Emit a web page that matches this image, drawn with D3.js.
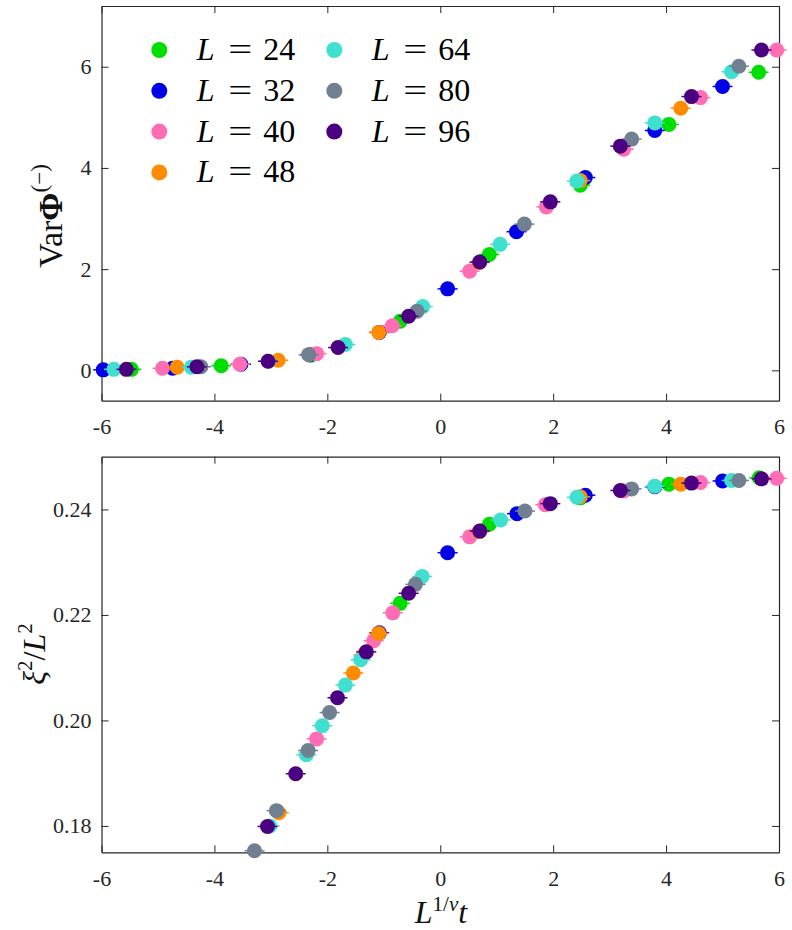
<!DOCTYPE html>
<html lang="en">
<head>
<meta charset="UTF-8">
<title>collapse</title>
<style>
  body { margin: 0; background: #fff; }
  text { font-family: "Liberation Serif", "Times New Roman", serif; }
</style>
</head>
<body>
<script src="https://d3js.org/d3.v7.min.js"></script>
<script>
// system sizes + colours (legend order)
const sizes = [24, 32, 40, 48, 64, 80, 96];
const colors = ['#00dd00', '#0000e6', '#ff6eb4', '#ff8c00', '#40e0d0', '#708090', '#4b0082'];

// top panel: [L^{1/nu} t, Var Phi^(-)]
const var24 = [[-5.47, 0.02], [-3.88, 0.09], [-2.29, 0.30], [-0.71, 0.97], [0.87, 2.29], [2.48, 3.66], [4.05, 4.86], [5.64, 5.89]];
const var32 = [[-5.97, 0.01], [-4.74, 0.04], [-3.53, 0.12], [-2.31, 0.31], [-1.08, 0.75], [0.13, 1.61], [1.35, 2.74], [2.57, 3.81], [3.80, 4.74], [5.00, 5.61]];
const var40 = [[-4.92, 0.04], [-3.55, 0.12], [-2.19, 0.33], [-0.85, 0.88], [0.52, 1.96], [1.88, 3.23], [3.25, 4.37], [4.61, 5.39], [5.96, 6.33]];
const var48 = [[-4.66, 0.06], [-2.87, 0.20], [-1.09, 0.75], [0.69, 2.13], [2.48, 3.75], [4.26, 5.18]];
const var64 = [[-5.78, 0.02], [-4.41, 0.06], [-3.04, 0.18], [-1.68, 0.51], [-0.31, 1.26], [1.06, 2.49], [2.42, 3.74], [3.80, 4.89], [5.16, 5.90]];
const var80 = [[-4.24, 0.07], [-2.33, 0.31], [-0.41, 1.17], [1.49, 2.89], [3.39, 4.57], [5.29, 6.01]];
const var96 = [[-5.56, 0.02], [-4.31, 0.07], [-3.05, 0.18], [-1.81, 0.45], [-0.56, 1.07], [0.70, 2.14], [1.95, 3.33], [3.19, 4.43], [4.45, 5.41], [5.69, 6.33]];

// bottom panel: [L^{1/nu} t, xi^2/L^2]
const xi24 = [[-0.71, 0.2222], [0.87, 0.2372], [2.48, 0.2422], [4.05, 0.2448], [5.65, 0.2460]];
const xi32 = [[-1.08, 0.2166], [0.13, 0.2318], [1.36, 0.2392], [2.57, 0.2427], [3.80, 0.2443], [5.00, 0.2454]];
const xi40 = [[-2.19, 0.1965], [-1.18, 0.2151], [-0.84, 0.2204], [0.52, 0.2348], [1.86, 0.2409], [3.25, 0.2435], [4.61, 0.2451], [5.96, 0.2459]];
const xi48 = [[-2.86, 0.1825], [-1.54, 0.2090], [-1.36, 0.2124], [-1.09, 0.2165], [0.69, 0.2358], [2.48, 0.2424], [4.26, 0.2448]];
const xi64 = [[-3.02, 0.1800], [-2.37, 0.1935], [-2.09, 0.1990], [-1.68, 0.2067], [-1.41, 0.2115], [-0.32, 0.2273], [1.07, 0.2380], [2.42, 0.2423], [3.80, 0.2444], [5.16, 0.2455]];
const xi80 = [[-3.29, 0.1753], [-2.90, 0.1829], [-2.34, 0.1943], [-1.96, 0.2015], [-0.44, 0.2258], [1.50, 0.2397], [3.39, 0.2439], [5.29, 0.2455]];
const xi96 = [[-3.06, 0.1799], [-2.56, 0.1899], [-1.82, 0.2043], [-1.31, 0.2130], [-0.56, 0.2241], [0.70, 0.2359], [1.95, 0.2411], [3.19, 0.2436], [4.45, 0.2450], [5.69, 0.2458]];

const xTicks = [-6, -4, -2, 0, 2, 4, 6];
const varTicks = [0, 2, 4, 6];
const xiTicks = [0.18, 0.20, 0.22, 0.24];

const varSeries = [var24, var32, var40, var48, var64, var80, var96];
const xiSeries = [xi24, xi32, xi40, xi48, xi64, xi80, xi96];

const W = 792, H = 930;
const svg = d3.select('body').append('svg').attr('width', W).attr('height', H);

const x = d3.scaleLinear().domain([-6, 6]).range([101.5, 779]);
const yVar = d3.scaleLinear().domain([-0.6, 7.2]).range([400.7, 6]);
const yXi = d3.scaleLinear().domain([0.175, 0.25]).range([852.3, 456.7]);

const axisCol = '#262626';

function drawFrame(y, yTickVals, fmt) {
    const top = y.range()[1], bottom = y.range()[0];
    const styleAxis = g => {
        g.attr('font-family', '"Liberation Serif", serif').attr('font-size', 22);
        g.select('.domain').attr('stroke', axisCol).attr('stroke-width', 1.2);
        g.selectAll('.tick line').attr('stroke', axisCol);
        g.selectAll('.tick text').attr('fill', '#262626');
    };
    svg.append('g').attr('transform', `translate(0,${bottom})`)
        .call(d3.axisBottom(x).tickValues(xTicks).tickSizeInner(-7).tickSizeOuter(0).tickPadding(18).tickFormat(d3.format('d')))
        .call(styleAxis);
    svg.append('g').attr('transform', `translate(0,${top})`)
        .call(d3.axisTop(x).tickValues(xTicks).tickSizeInner(-7).tickSizeOuter(0).tickFormat(''))
        .call(styleAxis);
    svg.append('g').attr('transform', `translate(${x.range()[0]},0)`)
        .call(d3.axisLeft(y).tickValues(yTickVals).tickSizeInner(-7).tickSizeOuter(0).tickPadding(10).tickFormat(fmt))
        .call(styleAxis);
    svg.append('g').attr('transform', `translate(${x.range()[1]},0)`)
        .call(d3.axisRight(y).tickValues(yTickVals).tickSizeInner(-7).tickSizeOuter(0).tickFormat(''))
        .call(styleAxis);
    // hyphen style minus like the original
    svg.selectAll('.tick text').text(function () { return this.textContent.replace('\u2212', '-'); });
}

function drawPoints(y, series) {
    const [d0, d1] = y.domain();
    series.forEach((pts, i) => {
        const inside = pts.filter(p => p[0] >= -6 && p[0] <= 6 && p[1] >= d0 && p[1] <= d1);
        const g = svg.append('g');
        g.selectAll('line').data(inside).enter().append('line')
            .attr('x1', d => x(d[0]) - 10).attr('x2', d => x(d[0]) + 10)
            .attr('y1', d => y(d[1])).attr('y2', d => y(d[1]))
            .attr('stroke', colors[i]).attr('stroke-width', 1.5);
        g.selectAll('circle').data(inside).enter().append('circle')
            .attr('cx', d => x(d[0])).attr('cy', d => y(d[1]))
            .attr('r', 7.5).attr('fill', colors[i]);
    });
}

drawFrame(yVar, varTicks, d3.format('d'));
drawFrame(yXi, xiTicks, d3.format('.2f'));
drawPoints(yVar, varSeries);
drawPoints(yXi, xiSeries);

// legend, 2 columns (4 + 3)
const leg = svg.append('g');
sizes.forEach((L, i) => {
    const col = i < 4 ? 0 : 1, row = i < 4 ? i : i - 4;
    const mx = 159.3 + col * 175, my = 50 + row * 40.8;
    leg.append('circle').attr('cx', mx).attr('cy', my).attr('r', 8).attr('fill', colors[i]);
    const tx = mx + 37.5, by = my + 10;
    leg.append('text').attr('x', tx).attr('y', by).attr('font-size', 32).attr('font-style', 'italic').text('L');
    leg.append('text').attr('x', tx + 31.5).attr('y', by).attr('font-size', 32)
        .attr('textLength', 24).attr('lengthAdjust', 'spacingAndGlyphs').text('=');
    leg.append('text').attr('x', tx + 66.5).attr('y', by).attr('font-size', 32).text(L);
});

// y label top: Var Phi^(-)
const yl1 = svg.append('text').attr('transform', 'translate(62,216) rotate(-90)')
    .attr('text-anchor', 'middle').attr('font-size', 34).attr('fill', '#111');
yl1.append('tspan').text('Var');
yl1.append('tspan').attr('font-weight', 'bold').text('\u03A6');
yl1.append('tspan').attr('font-size', 23).attr('dy', -15).text('(\u2212)');

// y label bottom: xi^2 / L^2
const yl2 = svg.append('text').attr('transform', 'translate(45,654) rotate(-90)')
    .attr('text-anchor', 'middle').attr('font-size', 32).attr('fill', '#111');
yl2.append('tspan').attr('font-style', 'italic').text('\u03BE');
yl2.append('tspan').attr('font-size', 21).attr('dy', -13).text('2');
yl2.append('tspan').attr('dy', 13).text('/');
yl2.append('tspan').attr('font-style', 'italic').text('L');
yl2.append('tspan').attr('font-size', 21).attr('dy', -13).text('2');

// x label: L^{1/nu} t
const xl = svg.append('text').attr('x', 441).attr('y', 923)
    .attr('text-anchor', 'middle').attr('font-size', 32).attr('fill', '#111');
xl.append('tspan').attr('font-style', 'italic').text('L');
xl.append('tspan').attr('font-size', 21).attr('dy', -12).text('1/');
xl.append('tspan').attr('font-size', 21).attr('font-style', 'italic').text('\u03BD');
xl.append('tspan').attr('dy', 12).attr('font-style', 'italic').text('t');
</script>
</body>
</html>
